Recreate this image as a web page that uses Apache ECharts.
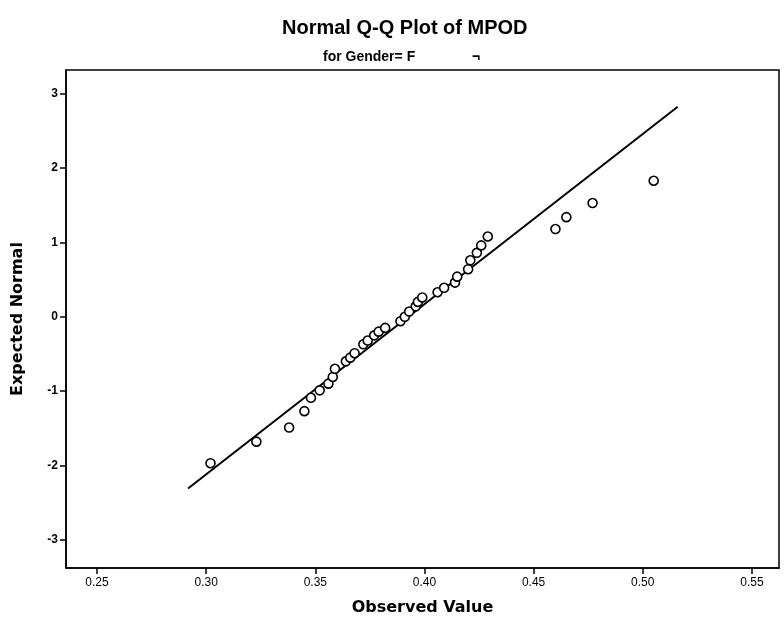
<!DOCTYPE html>
<html>
<head>
<meta charset="utf-8">
<script src="https://cdn.jsdelivr.net/npm/echarts@6/dist/echarts.min.js"></script>
<style>
  html, body { margin: 0; padding: 0; background: #fff; }
  #chart { width: 784px; height: 625px; }
</style>
</head>
<body>
<div id="chart"></div>
<script>
// observed values and their expected normal scores
const observed = [0.302, 0.323, 0.338, 0.345, 0.348, 0.352, 0.356, 0.358, 0.359, 0.364,
  0.366, 0.368, 0.372, 0.374, 0.377, 0.379, 0.382, 0.389, 0.391, 0.393,
  0.396, 0.397, 0.399, 0.406, 0.409, 0.414, 0.415, 0.420, 0.421, 0.424,
  0.426, 0.429, 0.460, 0.465, 0.477, 0.505];
const expected = [-1.97, -1.68, -1.49, -1.27, -1.09, -0.99, -0.90, -0.81, -0.70, -0.60,
  -0.55, -0.49, -0.37, -0.32, -0.25, -0.20, -0.15, -0.06, 0.00, 0.07,
  0.14, 0.20, 0.26, 0.33, 0.39, 0.46, 0.54, 0.64, 0.76, 0.86,
  0.96, 1.08, 1.18, 1.34, 1.53, 1.83];

// reference line end points
const lineX = [0.2917, 0.516];
const lineY = [-2.31, 2.826];

const xTicks = [0.25, 0.30, 0.35, 0.40, 0.45, 0.50, 0.55];
const yTicks = [-3, -2, -1, 0, 1, 2, 3];

const chart = echarts.init(document.getElementById('chart'));

const option = {
  backgroundColor: '#fff',
  animation: false,
  title: [
    {
      text: 'Normal Q-Q Plot of MPOD',
      left: 277,
      top: 13,
      textStyle: { fontFamily: 'Liberation Sans', fontSize: 20, fontWeight: 'bold', color: '#000' }
    },
    {
      text: 'for Gender= F',
      left: 318,
      top: 45,
      textStyle: { fontFamily: 'Liberation Sans', fontSize: 14, fontWeight: 'bold', color: '#000' }
    },
    {
      text: '\u00ac',
      left: 467,
      top: 45,
      textStyle: { fontFamily: 'Liberation Sans', fontSize: 14, fontWeight: 'bold', color: '#000' }
    }
  ],
  grid: {
    left: 66, right: 5, top: 70, bottom: 57,
    show: true,
    borderColor: '#000',
    borderWidth: 1.5
  },
  xAxis: {
    type: 'value',
    min: 0.2358,
    max: 0.5624,
    name: 'Observed Value',
    nameLocation: 'middle',
    nameGap: 32,
    nameTextStyle: { fontFamily: 'DejaVu Sans', fontSize: 16, fontWeight: 'bold', color: '#000' },
    axisLine: { show: true, onZero: false, lineStyle: { color: '#000', width: 1.5 } },
    axisTick: { show: true, customValues: xTicks, length: 6, lineStyle: { color: '#000', width: 1.5 } },
    axisLabel: {
      customValues: xTicks,
      formatter: v => v.toFixed(2),
      color: '#000',
      fontFamily: 'Liberation Sans',
      fontSize: 12,
      margin: 9
    },
    splitLine: { show: false }
  },
  yAxis: {
    type: 'value',
    min: -3.38,
    max: 3.32,
    name: 'Expected Normal',
    nameLocation: 'middle',
    nameGap: 40,
    nameTextStyle: { fontFamily: 'DejaVu Sans', fontSize: 16, fontWeight: 'bold', color: '#000' },
    axisLine: { show: true, onZero: false, lineStyle: { color: '#000', width: 1.5 } },
    axisTick: { show: true, customValues: yTicks, length: 6, lineStyle: { color: '#000', width: 1.5 } },
    axisLabel: {
      customValues: yTicks,
      formatter: v => String(Math.round(v)),
      color: '#000',
      fontFamily: 'Liberation Sans',
      fontSize: 12,
      fontWeight: 'bold',
      margin: 8
    },
    splitLine: { show: false }
  },
  series: [
    {
      type: 'line',
      data: lineX.map((x, i) => [x, lineY[i]]),
      symbol: 'none',
      lineStyle: { color: '#000', width: 2 },
      z: 2
    },
    {
      type: 'scatter',
      data: observed.map((x, i) => [x, expected[i]]),
      symbol: 'circle',
      symbolSize: 9,
      itemStyle: { color: '#fff', borderColor: '#000', borderWidth: 1.6, opacity: 1 },
      z: 3
    }
  ]
};

chart.setOption(option);
window.addEventListener('resize', () => chart.resize());
</script>
</body>
</html>
